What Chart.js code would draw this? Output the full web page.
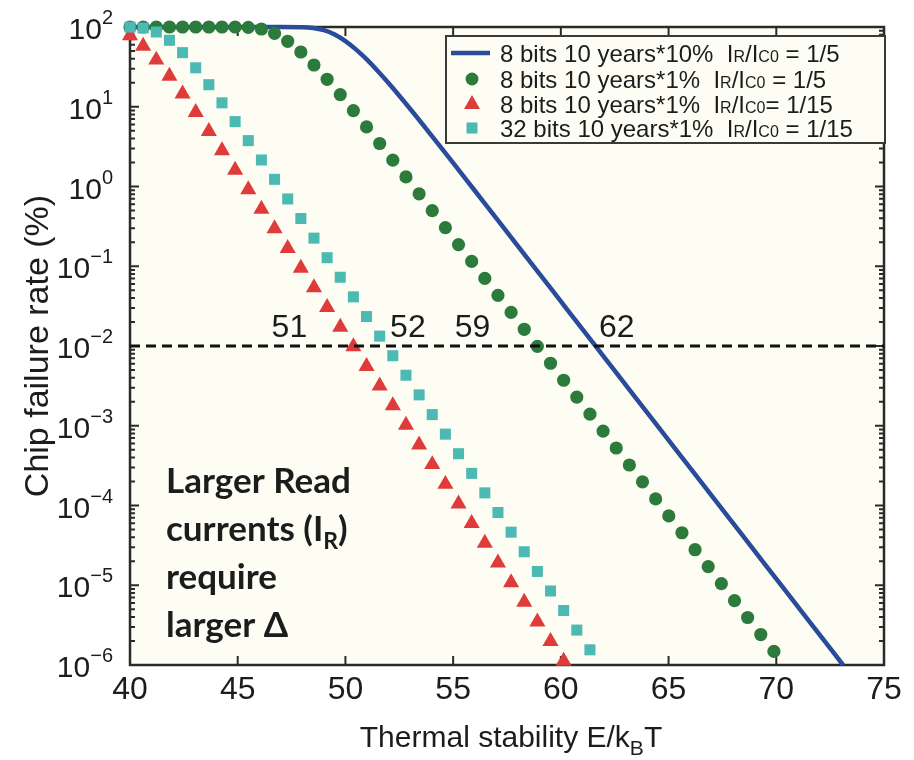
<!DOCTYPE html>
<html>
<head>
<meta charset="utf-8">
<script src="https://cdn.jsdelivr.net/npm/chart.js@4.4.1/dist/chart.umd.min.js"></script>
<style>
    html, body { margin: 0; padding: 0; background: #ffffff; }
    #caixa { width: 914px; height: 760px; }
</style>
</head>
<body>
<div id="caixa"><canvas id="grafico" width="914" height="760"></canvas></div>
<script>
// Estabilidade térmica (eixo x) dos pontos marcados
const estabilidade = [
    40.00, 40.61, 41.22, 41.83, 42.44, 43.05, 43.66, 44.27, 44.88, 45.49,
    46.10, 46.71, 47.32, 47.93, 48.54, 49.15, 49.76, 50.37, 50.98, 51.59,
    52.20, 52.81, 53.42, 54.03, 54.64, 55.25, 55.86, 56.47, 57.08, 57.69,
    58.30, 58.91, 59.52, 60.13, 60.74, 61.35, 61.96, 62.57, 63.18, 63.79,
    64.40, 65.01, 65.62, 66.23, 66.84, 67.45, 68.06, 68.67, 69.28, 69.89
];

// 8 bits 10 anos *1%  IR/IC0 = 1/5 (círculos verdes)
const falha8bits1 = [
    100, 100, 100, 100, 100, 100, 100, 100, 99.95, 99.1,
    94.4, 83.0, 66.2, 48.6, 33.4, 22.1, 14.2, 8.96, 5.59, 3.46,
    2.14, 1.32, 0.810, 0.498, 0.305, 0.187, 0.115, 0.0703, 0.0431, 0.0264,
    0.0162, 0.00991, 0.00608, 0.00372, 0.00229, 0.00140, 8.57e-4, 5.26e-4, 3.22e-4, 1.98e-4,
    1.21e-4, 7.41e-5, 4.55e-5, 2.79e-5, 1.71e-5, 1.05e-5, 6.41e-6, 3.94e-6, 2.41e-6, 1.48e-6
];

// 8 bits 10 anos *1%  IR/IC0 = 1/15 (triângulos vermelhos)
const falha8bits15 = [
    78.1, 57.7, 38.6, 24.2, 14.5, 8.51, 4.92, 2.82, 1.61, 0.916,
    0.521, 0.296, 0.168, 0.0951, 0.0540, 0.0305, 0.0173, 0.00982, 0.00557, 0.00316,
    0.00179, 0.00102, 5.75e-4, 3.27e-4, 1.85e-4, 1.05e-4, 5.96e-5, 3.37e-5, 1.91e-5, 1.08e-5,
    6.15e-6, 3.48e-6, 1.98e-6, 1.12e-6
];

// 32 bits 10 anos *1%  IR/IC0 = 1/15 (quadrados ciano)
const falha32bits15 = [
    99.8, 97.1, 86.6, 68.1, 47.7, 30.8, 18.9, 11.2, 6.51, 3.76,
    2.15, 1.23, 0.698, 0.397, 0.225, 0.128, 0.0728, 0.0413, 0.0234, 0.0133,
    0.00755, 0.00430, 0.00244, 0.00138, 7.85e-4, 4.46e-4, 2.53e-4, 1.44e-4, 8.17e-5, 4.63e-5,
    2.63e-5, 1.49e-5, 8.47e-6, 4.82e-6, 2.74e-6, 1.55e-6
];

// 8 bits 10 anos *10%  IR/IC0 = 1/5 (linha azul)
const estabilidadeLinha = [40, 45, 47, 48, 48.5, 49, 49.5, 50, 50.5, 51, 51.5, 52, 53, 54, 55, 56, 57, 58, 59, 60, 61, 62, 63, 64, 65, 66, 67, 68, 69, 70, 71, 72, 73.1];
const falhaLinha = [100, 100, 100, 99.6, 97.4, 91.3, 80.5, 66.6, 52.0, 38.9, 28.1, 19.8, 9.43, 4.35, 1.98, 0.891, 0.402, 0.180, 0.0809, 0.0363, 0.0163, 0.00731, 0.00328, 0.00147, 6.6e-4, 2.96e-4, 1.33e-4, 5.97e-5, 2.68e-5, 1.20e-5, 5.4e-6, 2.42e-6, 1.0e-6];

// Limite de falha (linha tracejada) e rótulos de cruzamento
const limiteFalha = 0.01;
const rotulosCruzamento = ["51", "52", "59", "62"];
const posicaoRotulos = [47.4, 52.9, 55.9, 62.6];

const ticksX = [40, 45, 50, 55, 60, 65, 70, 75];
const expoentesY = [-6, -5, -4, -3, -2, -1, 0, 1, 2];

const legendas = [
    ["8 bits 10 years*10%  ", " = 1/5"],
    ["8 bits 10 years*1%  ", " = 1/5"],
    ["8 bits 10 years*1%  ", "= 1/15"],
    ["32 bits 10 years*1%  ", " = 1/15"]
];

const azul = "#2a4b9c";
const verde = "#2d7b3c";
const vermelho = "#e03b3b";
const ciano = "#4cb9b3";
const corFundo = "#fdfdf3";
const corTexto = "#1c1c1c";
const fonte = "'Liberation Sans', Arial, sans-serif";
const fonteNegrito = "Lato, 'Open Sans', sans-serif";

function pontos(xs, ys) {
    return ys.map((y, i) => ({ x: xs[i], y: y }));
}

// Escreve pedaços de texto lado a lado (para subscritos)
function escreveTrechos(ctx, trechos, x, y) {
    trechos.forEach(t => {
        ctx.font = t.f;
        ctx.fillText(t.s, x, y + (t.dy || 0));
        x += ctx.measureText(t.s).width;
    });
    return x;
}

function larguraTrechos(ctx, trechos) {
    let w = 0;
    trechos.forEach(t => { ctx.font = t.f; w += ctx.measureText(t.s).width; });
    return w;
}

const pluginFundo = {
    id: "fundo",
    beforeDraw(chart) {
        const { ctx, chartArea: a } = chart;
        ctx.save();
        ctx.fillStyle = "#ffffff";
        ctx.fillRect(0, 0, chart.width, chart.height);
        ctx.fillStyle = corFundo;
        ctx.fillRect(a.left, a.top, a.right - a.left, a.bottom - a.top);
        ctx.restore();
    },
    beforeDatasetsDraw(chart) {
        const { ctx, chartArea: a, scales } = chart;
        ctx.save();
        ctx.strokeStyle = "#2a2a2a";
        ctx.lineWidth = 2;
        ctx.beginPath();
        // marcas do eixo y (dentro do gráfico, esquerda e direita)
        expoentesY.forEach(e => {
            const py = scales.y.getPixelForValue(Math.pow(10, e));
            ctx.moveTo(a.left, py); ctx.lineTo(a.left + 9, py);
            ctx.moveTo(a.right, py); ctx.lineTo(a.right - 9, py);
            if (e < 2) {
                for (let m = 2; m <= 9; m++) {
                    const pm = scales.y.getPixelForValue(m * Math.pow(10, e));
                    ctx.moveTo(a.left, pm); ctx.lineTo(a.left + 5, pm);
                    ctx.moveTo(a.right, pm); ctx.lineTo(a.right - 5, pm);
                }
            }
        });
        ticksX.forEach(v => {
            const px = scales.x.getPixelForValue(v);
            ctx.moveTo(px, a.bottom); ctx.lineTo(px, a.bottom - 9);
            ctx.moveTo(px, a.top); ctx.lineTo(px, a.top + 9);
        });
        ctx.stroke();
        ctx.lineWidth = 2.5;
        ctx.strokeRect(a.left, a.top, a.right - a.left, a.bottom - a.top);

        // rótulos do eixo y: 10 com expoente
        ctx.fillStyle = corTexto;
        ctx.textBaseline = "alphabetic";
        ctx.textAlign = "left";
        expoentesY.forEach(e => {
            const py = scales.y.getPixelForValue(Math.pow(10, e));
            const exp = e < 0 ? "\u2212" + (-e) : String(e);
            const trechos = [
                { s: "10", f: "30px " + fonte },
                { s: exp, f: "20px " + fonte, dy: -15 }
            ];
            const w = larguraTrechos(ctx, trechos);
            escreveTrechos(ctx, trechos, 113 - w, py + 12);
        });
        ctx.restore();
    },
    afterDraw(chart) {
        const { ctx, chartArea: a, scales } = chart;
        ctx.save();
        ctx.fillStyle = corTexto;

        // rótulos de cruzamento
        ctx.font = "32px " + fonte;
        ctx.textAlign = "center";
        ctx.textBaseline = "alphabetic";
        rotulosCruzamento.forEach((r, i) => {
            ctx.fillText(r, scales.x.getPixelForValue(posicaoRotulos[i]), scales.y.getPixelForValue(0.013));
        });

        // título do eixo x com subscrito
        ctx.textAlign = "left";
        const tituloX = [
            { s: "Thermal stability E/k", f: "30px " + fonte },
            { s: "B", f: "21px " + fonte, dy: 8 },
            { s: "T", f: "30px " + fonte }
        ];
        const wx = larguraTrechos(ctx, tituloX);
        escreveTrechos(ctx, tituloX, (a.left + a.right) / 2 - wx / 2 + 4, 747);

        // legenda
        const lx = 446, ly = 36, lw = a.right - 446 + 1, lh = 107;
        ctx.fillStyle = corFundo;
        ctx.fillRect(lx, ly, lw, lh);
        ctx.strokeStyle = "#3a3a3a";
        ctx.lineWidth = 2;
        ctx.strokeRect(lx, ly, lw, lh);
        const linhasY = [53, 79, 104, 128];
        // amostra da linha
        ctx.strokeStyle = azul;
        ctx.lineWidth = 4.5;
        ctx.beginPath(); ctx.moveTo(451, linhasY[0]); ctx.lineTo(490, linhasY[0]); ctx.stroke();
        // círculo
        ctx.fillStyle = verde;
        ctx.beginPath(); ctx.arc(472, linhasY[1], 6.5, 0, Math.PI * 2); ctx.fill();
        // triângulo
        ctx.fillStyle = vermelho;
        ctx.beginPath();
        ctx.moveTo(472, linhasY[2] - 9); ctx.lineTo(480, linhasY[2] + 5); ctx.lineTo(464, linhasY[2] + 5);
        ctx.closePath(); ctx.fill();
        // quadrado
        ctx.fillStyle = ciano;
        ctx.fillRect(466.5, linhasY[3] - 5.5, 11, 11);

        ctx.fillStyle = corTexto;
        legendas.forEach((l, i) => {
            escreveTrechos(ctx, [
                { s: l[0], f: "24px " + fonte },
                { s: "I", f: "24px " + fonte },
                { s: "R", f: "16px " + fonte },
                { s: "/I", f: "24px " + fonte },
                { s: "C0", f: "16px " + fonte },
                { s: l[1], f: "24px " + fonte }
            ], 500, linhasY[i] + 9);
        });

        // anotação em negrito
        const fb = "bold 35px " + fonteNegrito;
        const ax = a.left + 36;
        ctx.font = fb;
        ctx.fillText("Larger Read", ax, a.top + 466);
        escreveTrechos(ctx, [
            { s: "currents (I", f: fb },
            { s: "R", f: "bold 23px " + fonteNegrito, dy: 8 },
            { s: ")", f: fb }
        ], ax, a.top + 514);
        ctx.font = fb;
        ctx.fillText("require", ax, a.top + 562);
        ctx.fillText("larger \u0394", ax, a.top + 610);
        ctx.restore();
    }
};

new Chart(document.getElementById("grafico").getContext("2d"), {
    type: "scatter",
    data: {
        datasets: [
            {
                label: "limite",
                data: [{ x: 40, y: limiteFalha }, { x: 75, y: limiteFalha }],
                showLine: true,
                borderColor: "#111111",
                borderWidth: 3,
                borderDash: [10, 6],
                pointRadius: 0,
                order: 0
            },
            {
                label: "32 bits 10 years*1%  IR/IC0 = 1/15",
                data: pontos(estabilidade, falha32bits15),
                pointStyle: "rect",
                pointRadius: 7.8,
                backgroundColor: ciano,
                borderWidth: 0,
                clip: false,
                order: 1
            },
            {
                label: "8 bits 10 years*1%  IR/IC0= 1/15",
                data: pontos(estabilidade, falha8bits15),
                pointStyle: "triangle",
                pointRadius: 9.3,
                backgroundColor: vermelho,
                borderWidth: 0,
                clip: false,
                order: 2
            },
            {
                label: "8 bits 10 years*1%  IR/IC0 = 1/5",
                data: pontos(estabilidade, falha8bits1),
                pointStyle: "circle",
                pointRadius: 6.6,
                backgroundColor: verde,
                borderWidth: 0,
                clip: false,
                order: 3
            },
            {
                label: "8 bits 10 years*10%  IR/IC0 = 1/5",
                data: pontos(estabilidadeLinha, falhaLinha),
                showLine: true,
                borderColor: azul,
                borderWidth: 4.5,
                pointRadius: 0,
                cubicInterpolationMode: "monotone",
                clip: false,
                order: 4
            }
        ]
    },
    options: {
        responsive: false,
        animation: false,
        devicePixelRatio: 1,
        layout: { padding: { top: 27, right: 30, left: 0, bottom: 0 } },
        plugins: { legend: { display: false }, tooltip: { enabled: false } },
        scales: {
            x: {
                type: "linear",
                min: 40,
                max: 75,
                afterFit: s => { s.height = 95; },
                afterBuildTicks: s => { s.ticks = ticksX.map(v => ({ value: v })); },
                grid: { display: false, drawTicks: false },
                border: { display: false },
                ticks: {
                    color: corTexto,
                    padding: 6,
                    maxRotation: 0,
                    font: { size: 32, family: fonte },
                    callback: v => String(v)
                },
                title: { display: false }
            },
            y: {
                type: "logarithmic",
                min: 1e-6,
                max: 100,
                afterFit: s => { s.width = 130; },
                afterBuildTicks: s => { s.ticks = expoentesY.map(e => ({ value: Math.pow(10, e) })); },
                grid: { display: false, drawTicks: false },
                border: { display: false },
                ticks: { display: false },
                title: {
                    display: true,
                    text: "Chip failure rate (%)",
                    color: corTexto,
                    font: { size: 34, family: fonte },
                    padding: { top: 18, bottom: 0 }
                }
            }
        }
    },
    plugins: [pluginFundo]
});
</script>
</body>
</html>
